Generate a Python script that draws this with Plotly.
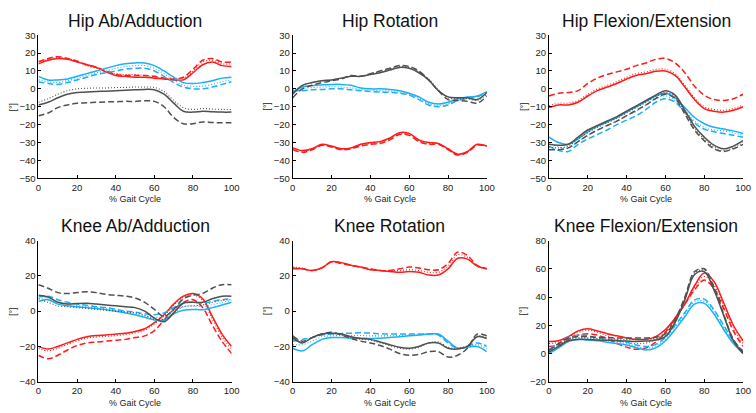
import plotly.graph_objects as go

# ---------------- data ----------------
GAIT = [0, 5, 10, 15, 20, 25, 30, 35, 40, 45, 50, 55, 60, 65, 70, 75, 80, 85, 90, 95, 100]

TITLES = ["Hip Ab/Adduction", "Hip Rotation", "Hip Flexion/Extension",
          "Knee Ab/Adduction", "Knee Rotation", "Knee Flexion/Extension"]
X_LABEL = "% Gait Cycle"
Y_LABEL = "[°]"
X_TICKS = [0, 20, 40, 60, 80, 100]
TOP_Y_TICKS = [-50, -40, -30, -20, -10, 0, 10, 20, 30]
KNEE_Y_TICKS = [-40, -20, 0, 20, 40]
KFE_Y_TICKS = [-20, 0, 20, 40, 60, 80]

# Hip Ab/Adduction
hip_abad_red_solid = [14, 16, 17, 16.5, 15, 13.5, 12, 9.5, 7.5, 7, 6.5, 6.5, 6, 5.5, 5, 5, 9, 13.5, 15, 13, 12.5]
hip_abad_red_dash = [15, 17, 18, 17, 15.5, 13.5, 12, 10, 8, 7.5, 7.5, 7.5, 7, 6, 5.5, 6.5, 11, 16, 17, 15, 15]
hip_abad_red_dot = [15.5, 16.5, 17.5, 17, 15.5, 13, 11.5, 9.5, 8.5, 8, 8, 7.5, 6.5, 6, 6, 6, 10, 15, 16, 14, 14]
hip_abad_blue_solid = [7, 5, 5, 5.5, 7, 8.5, 10, 11.5, 13, 14, 14.5, 14.5, 13, 10, 6.5, 3.5, 3, 3.5, 4.5, 6, 6.5]
hip_abad_blue_dash = [4, 3, 2.5, 3.5, 5, 6.5, 8, 9, 10, 11, 11.5, 11.5, 10, 7, 3.5, 1, 0, 0, 1, 2.5, 4]
hip_abad_blue_dot = [5, 4, 3.5, 4.5, 6, 7.5, 9, 10, 11.5, 12.5, 13, 13, 11.5, 8.5, 5, 2, 1.5, 1.5, 2.5, 4, 5]
hip_abad_gray_solid = [-9, -7.5, -5, -3, -2, -1.8, -1.5, -1.3, -1, -0.8, -0.5, -0.3, -0.5, -3, -8, -12.5, -13, -12.5, -12.8, -13, -13]
hip_abad_gray_dash = [-15, -13.5, -10.5, -9, -8, -7.8, -7.5, -7.3, -7.2, -7, -7, -6.7, -7, -10, -16, -19.5, -19.5, -18.5, -18.8, -19, -19]
hip_abad_gray_dot = [-7.5, -5.5, -3, -1, 0, 0.3, 0.5, 0.5, 0.7, 0.8, 1, 1, 0.8, -1.5, -6.5, -10.5, -11.5, -11, -11.3, -11.5, -11.5]

# Hip Rotation
hip_rot_red_solid = [-33, -34.5, -33.5, -31, -32, -33.5, -33, -31, -30, -29.5, -27.5, -24.5, -25, -28.5, -30, -30.5, -33.5, -36.5, -35, -31, -32]
hip_rot_red_dash = [-34, -35.5, -34, -31.5, -32.5, -34, -33.5, -32, -31, -30.5, -28.5, -25.5, -26, -29.5, -31, -31, -34, -37, -35.5, -31.5, -32]
hip_rot_red_dot = [-33.5, -35, -33.8, -31.2, -32.2, -33.8, -33.2, -31.5, -30.5, -30, -28, -25, -25.5, -29, -30.5, -30.8, -33.8, -36.8, -35.2, -31.2, -32]
hip_rot_blue_solid = [-2, 1, 1.8, 2.2, 2.5, 2.5, 2, 0.5, 0, 0, -0.3, -1, -2.5, -4.5, -7.5, -8.5, -7.5, -5.5, -4.5, -4, -1.5]
hip_rot_blue_dash = [-1, -1, -0.5, -0.3, 0, 0, -0.5, -1, -1.5, -1.8, -2, -2.5, -3.5, -6, -9, -10, -9, -6.5, -5.5, -4.5, -2]
hip_rot_blue_dot = [-0.5, 0.2, 0.7, 1, 1.2, 1, 0.5, -0.3, -0.8, -1, -1.2, -1.8, -3, -5.3, -8.3, -9.3, -8.3, -6, -5, -4.2, -1.8]
hip_rot_gray_solid = [-3, 2, 3.5, 4.5, 5, 6, 7, 7, 8, 9, 10.5, 12, 11.5, 9, 5, -1, -4.5, -5, -5, -6, -2]
hip_rot_gray_dash = [-5, 0, 2, 3.5, 4.5, 5.5, 7.5, 7, 8.5, 10, 11.5, 13, 12.5, 10, 5, -1, -6, -6.5, -7, -8, -4]
hip_rot_gray_dot = [-2, 2, 3.5, 4.5, 5, 6, 7, 7, 8.5, 9.5, 11, 12.5, 12, 9.5, 5.5, -0.5, -5, -5.5, -5.5, -6.5, -3]

# Hip Flexion/Extension
hip_fe_red_solid = [-10.5, -9, -9, -7.5, -4, -1, 1, 3, 5.5, 7.5, 8.5, 9.8, 10, 7.5, 1, -6, -11, -12.5, -13, -12, -10]
hip_fe_red_dash = [-4, -2.5, -2, -1, 3, 6, 8, 9.5, 11, 13, 14.5, 16.5, 17, 14.5, 9, 1.5, -3.5, -6, -6.5, -5.5, -3]
hip_fe_red_dot = [-9.5, -8, -8, -6.5, -3, 0, 2, 4, 6.5, 8.5, 9.5, 10.8, 11, 8.5, 2, -5, -10, -11.5, -12, -11, -9]
hip_fe_blue_solid = [-27, -30, -31, -28, -24, -21, -18.5, -16, -13, -10, -7, -4, -2.5, -5, -10.5, -16, -19.5, -21.5, -22.5, -23.5, -25]
hip_fe_blue_dash = [-32, -34.5, -35, -31, -28, -25.5, -23, -20, -17.5, -15, -11.5, -7.5, -5.5, -7.5, -13, -19, -22.5, -24, -25, -26, -27]
hip_fe_blue_dot = [-30, -32.5, -33, -29.5, -26, -23, -20.5, -18, -15, -12.5, -9, -5.5, -4, -6.5, -12, -18, -21.5, -23, -23.5, -24.5, -26]
hip_fe_gray_solid = [-31, -31.5, -31, -27, -23, -20.5, -18, -15.5, -12.5, -9.5, -6.5, -3.5, -1, -3.5, -12, -21, -27, -31.5, -33.5, -32, -29]
hip_fe_gray_dash = [-34, -34, -33, -29.5, -26, -23, -20.5, -18, -15, -12, -9, -5.5, -3, -5.5, -14, -23, -29, -33.5, -35, -33.5, -31]
hip_fe_gray_dot = [-32.5, -33, -32, -28, -24.5, -21.5, -19, -16.5, -13.5, -10.5, -7.5, -4.5, -2, -4.5, -13, -22, -28, -32.5, -34.5, -33, -30]

# Knee Ab/Adduction
knee_abad_red_solid = [-20, -21.5, -20, -18, -16, -14.5, -13.8, -13.5, -13, -12.5, -11.5, -10, -6.5, -2, 4, 8.5, 10, 7, -3, -13, -20]
knee_abad_red_dash = [-25, -27, -25, -22, -19.5, -18, -17.5, -17, -16.5, -16, -15, -14, -11, -5, 1, 5, 6.5, 2, -8, -17, -24]
knee_abad_red_dot = [-21, -22.5, -21, -18.8, -16.8, -15.3, -14.6, -14.3, -13.8, -13.3, -12.3, -10.8, -7.3, -2.8, 3.3, 7.8, 9.3, 6, -4.5, -14.5, -21.5]
knee_abad_blue_solid = [5.5, 6.5, 4, 3, 2.5, 2, 1.5, 0.8, 0, -1, -2, -3.5, -5, -5, -1.5, 0.5, 1, 0.8, 2, 3.5, 5]
knee_abad_blue_dash = [8, 8.5, 6.5, 5, 4, 3.3, 2.5, 2, 1, 0, -0.5, -1.5, -2, -1, 2, 4.5, 5, 4.5, 5.5, 6.5, 7]
knee_abad_blue_dot = [7, 7.5, 5.3, 4, 3.2, 2.6, 2, 1.4, 0.5, -0.5, -1.2, -2.5, -3.5, -3, 0.3, 2.5, 3, 2.7, 3.7, 5, 6]
knee_abad_gray_solid = [9, 8, 5, 4, 4.3, 4.5, 4, 3.5, 3, 2.5, 2, 0, -4, -6, -1, 4.5, 5, 5, 7, 8.5, 8.5]
knee_abad_gray_dash = [15, 13, 10.5, 10, 10.5, 11, 10.5, 9.5, 9, 8.5, 7.5, 5, 1, -3, 1, 7, 9, 10, 13, 15, 15]
knee_abad_gray_dot = [7, 5, 3, 2.5, 2, 1.5, 1, 0.5, 0, -0.5, -1, -2.5, -4.5, -4.5, -1, 2.5, 3, 3.5, 5, 6, 6.5]

# Knee Rotation
knee_rot_red_solid = [24.5, 24, 23, 24.5, 28, 27.5, 26, 25, 23.5, 23, 22.5, 22, 22.5, 22, 20.5, 20.5, 24, 30, 29.5, 25.5, 24]
knee_rot_red_dash = [24, 24, 23, 24.5, 28, 27, 26, 25, 24, 23, 23, 24, 25, 24.5, 23.5, 23.5, 27, 33.5, 31.5, 26, 24]
knee_rot_red_dot = [25, 24.5, 23, 24.5, 28, 27.5, 26, 25, 23.5, 23, 23, 23, 23.5, 23, 22, 22, 25.5, 32, 30.5, 25.5, 24]
knee_rot_blue_solid = [-21, -22.5, -19, -16, -15, -15, -15.3, -15.3, -15.5, -15.3, -15, -14.5, -14, -13.5, -13, -13, -17, -21, -20.5, -20, -23]
knee_rot_blue_dash = [-17, -16, -15, -13.5, -13, -12.7, -12.5, -12.3, -12.5, -12.8, -13, -13, -13, -13, -13, -13.5, -18, -21, -20, -18, -20]
knee_rot_blue_dot = [-19, -19, -17, -14.5, -14, -13.8, -13.8, -13.8, -14, -14, -14, -13.8, -13.5, -13.3, -13, -13.3, -17.5, -21, -20.3, -19, -21.5]
knee_rot_gray_solid = [-15, -18, -15, -13, -12.5, -13, -14.5, -15.5, -16, -17.5, -19, -20.5, -21, -20, -18, -18, -21, -21.5, -20, -14.5, -15.5]
knee_rot_gray_dash = [-14, -17, -15, -13, -12, -13.5, -15.5, -17, -18, -19.5, -21.5, -24, -25, -24.5, -23, -23, -26, -25, -21, -13, -14]
knee_rot_gray_dot = [-16, -17.5, -15, -13, -12.5, -13.5, -15, -16, -16.5, -18, -19.5, -21, -21.5, -20.5, -18, -17.5, -20.5, -21, -19.5, -14, -15]

# Knee Flexion/Extension
knee_fe_red_solid = [8.5, 9, 12, 16, 17.5, 16, 14, 12.5, 11, 10, 10, 12, 17, 25, 35, 48, 57, 51, 36, 20, 9]
knee_fe_red_dash = [5, 6, 10, 13, 14, 13, 10.5, 7, 4.5, 3, 4, 8, 15, 25, 35, 45, 52, 46, 32, 16, 5]
knee_fe_red_dot = [7, 8, 11.5, 15, 16.5, 15, 12.5, 10, 8, 7, 7.5, 10, 16, 25, 35, 46.5, 54.5, 48.5, 34, 18, 7]
knee_fe_blue_solid = [0, 4, 8.5, 10, 9.5, 9, 8, 7, 6, 4, 2.5, 4, 9, 17, 26, 35, 35.5, 28, 17, 7, 0]
knee_fe_blue_dash = [3, 7, 11.5, 13, 12.5, 11, 10, 9, 8, 6, 5, 6.5, 11.5, 20, 29, 38, 38.5, 31, 20, 9, 2]
knee_fe_blue_dot = [1.5, 5.5, 10, 11.5, 11, 10, 9, 8, 7, 5, 3.8, 5.3, 10.3, 18.5, 27.5, 36.5, 37, 29.5, 18.5, 8, 1]
knee_fe_gray_solid = [1, 5, 9, 10, 10, 9.5, 9.3, 9, 8.8, 8.5, 8.8, 9.5, 12, 22, 38, 56, 58, 45, 27, 9, 0]
knee_fe_gray_dash = [2, 7, 11, 12, 12, 11.5, 11.2, 11, 11, 11, 11, 11.5, 14, 24, 40, 58, 60, 47, 28, 10, 1]
knee_fe_gray_dot = [1.5, 6, 10, 11, 11, 10.5, 10.3, 10, 10, 9.8, 10, 10.5, 13, 23, 39, 57, 59, 46, 27.5, 9.5, 0.5]

PANELS = [
    [hip_abad_red_solid, hip_abad_red_dash, hip_abad_red_dot,
     hip_abad_blue_solid, hip_abad_blue_dash, hip_abad_blue_dot,
     hip_abad_gray_solid, hip_abad_gray_dash, hip_abad_gray_dot],
    [hip_rot_red_solid, hip_rot_red_dash, hip_rot_red_dot,
     hip_rot_blue_solid, hip_rot_blue_dash, hip_rot_blue_dot,
     hip_rot_gray_solid, hip_rot_gray_dash, hip_rot_gray_dot],
    [hip_fe_red_solid, hip_fe_red_dash, hip_fe_red_dot,
     hip_fe_blue_solid, hip_fe_blue_dash, hip_fe_blue_dot,
     hip_fe_gray_solid, hip_fe_gray_dash, hip_fe_gray_dot],
    [knee_abad_red_solid, knee_abad_red_dash, knee_abad_red_dot,
     knee_abad_blue_solid, knee_abad_blue_dash, knee_abad_blue_dot,
     knee_abad_gray_solid, knee_abad_gray_dash, knee_abad_gray_dot],
    [knee_rot_red_solid, knee_rot_red_dash, knee_rot_red_dot,
     knee_rot_blue_solid, knee_rot_blue_dash, knee_rot_blue_dot,
     knee_rot_gray_solid, knee_rot_gray_dash, knee_rot_gray_dot],
    [knee_fe_red_solid, knee_fe_red_dash, knee_fe_red_dot,
     knee_fe_blue_solid, knee_fe_blue_dash, knee_fe_blue_dot,
     knee_fe_gray_solid, knee_fe_gray_dash, knee_fe_gray_dot],
]

# ---------------- styling ----------------
W, H = 756, 413
FONT = "Liberation Sans, Arial, Helvetica, sans-serif"
COLORS = ["#ff1a1a", "#1ab0f5", "#505050"]
STYLES = [("solid", 1.5), ("6px,3px", 1.5), ("1px,2px", 1.1)]

# pixel boxes (x0, x1, ytop, ybottom)
BOXES = [(36, 232, 30, 177), (294, 491, 30, 177), (554, 751, 30, 177),
         (36, 232, 241, 386), (294, 491, 241, 386), (554, 751, 241, 386)]
RANGES = [(-50, 30), (-50, 30), (-50, 30), (-40, 40), (-40, 40), (-20, 80)]
YTICKS = [TOP_Y_TICKS, TOP_Y_TICKS, TOP_Y_TICKS, KNEE_Y_TICKS, KNEE_Y_TICKS, KFE_Y_TICKS]
TITLE_Y = [15, 15, 15, 226, 226, 226]
XLAB_Y = [198, 198, 198, 407.5, 407.5, 407.5]

fig = go.Figure()
layout = dict(width=W, height=H, margin=dict(l=0, r=0, t=0, b=0),
              paper_bgcolor="white", plot_bgcolor="white", showlegend=False,
              font=dict(family=FONT, size=10, color="#222"))
annotations = []

for i, series in enumerate(PANELS):
    n = "" if i == 0 else str(i + 1)
    xa, ya = "x" + n, "y" + n
    x0, x1, yt, yb = BOXES[i]
    layout["xaxis" + n] = dict(
        domain=[x0 / W, x1 / W], range=[0, 100], anchor=ya,
        tickvals=X_TICKS, ticks="inside", ticklen=3, tickcolor="#000",
        showline=True, linecolor="#000", linewidth=1, showgrid=False,
        zeroline=False, tickfont=dict(size=9.5, color="#222", family=FONT))
    layout["yaxis" + n] = dict(
        domain=[1 - yb / H, 1 - yt / H], range=list(RANGES[i]), anchor=xa,
        tickvals=YTICKS[i], ticks="inside", ticklen=3, tickcolor="#000",
        showline=True, linecolor="#000", linewidth=1, showgrid=False,
        zeroline=False, tickfont=dict(size=9.5, color="#222", family=FONT))
    for k, yv in enumerate(series):
        color = COLORS[k // 3]
        dash, width = STYLES[k % 3]
        fig.add_trace(go.Scatter(
            x=GAIT, y=yv, mode="lines", xaxis=xa, yaxis=ya,
            line=dict(color=color, width=width, dash=dash, shape="spline", smoothing=1.0),
            hoverinfo="skip"))
    cx = (x0 + x1) / 2
    annotations.append(dict(text=TITLES[i], x=cx / W, y=1 - TITLE_Y[i] / H, xref="paper", yref="paper",
                            showarrow=False, xanchor="center", yanchor="middle",
                            font=dict(size=17.5, color="#111", family=FONT)))
    annotations.append(dict(text=X_LABEL, x=cx / W, y=1 - XLAB_Y[i] / H, xref="paper", yref="paper",
                            showarrow=False, xanchor="center", yanchor="middle",
                            font=dict(size=9, color="#222", family=FONT)))
    annotations.append(dict(text=Y_LABEL, x=(x0 - 26) / W, y=1 - ((yt + yb) / 2) / H, xref="paper", yref="paper",
                            showarrow=False, xanchor="center", yanchor="middle", textangle=-90,
                            font=dict(size=9, color="#222", family=FONT)))

layout["annotations"] = annotations
fig.update_layout(**layout)
fig.write_html("out.html")
